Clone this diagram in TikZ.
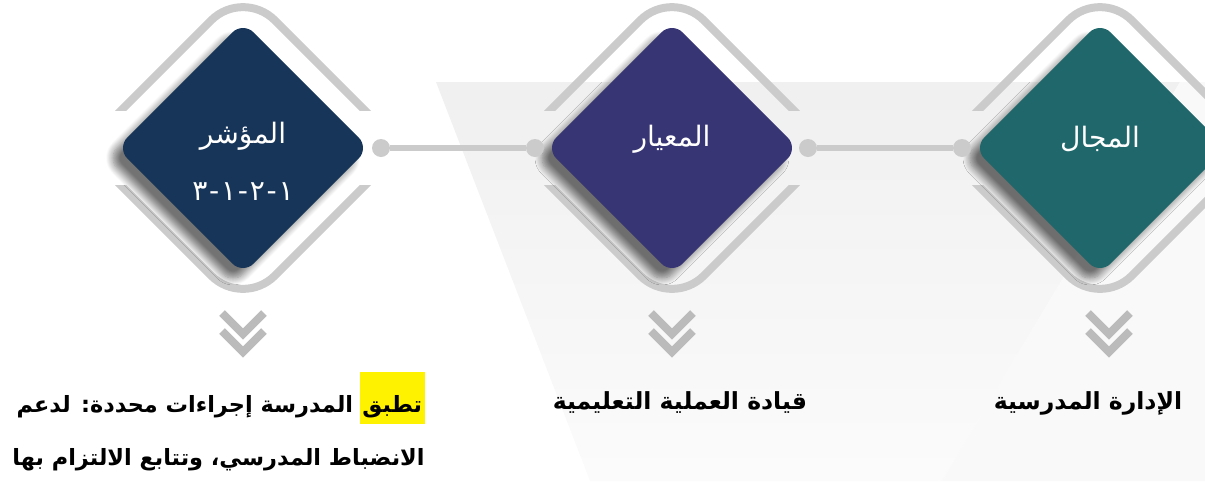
\documentclass[tikz,border=0pt]{standalone}
\usepackage{fontspec}
\usetikzlibrary{shadows.blur}
\setmainfont{DejaVu Sans}
\newfontfamily\arabicfont[Script=Arabic]{DejaVu Sans}
\TeXXeTstate=1
\definecolor{navy}{HTML}{173558}
\definecolor{indigo}{HTML}{383575}
\definecolor{petrol}{HTML}{1F676B}
\definecolor{framegray}{HTML}{CBCBCB}
\definecolor{chevgray}{HTML}{BBBBBB}

\tikzset{
  Tile/.style={rectangle, rotate=45, minimum size=3.57cm, inner sep=0pt, rounded corners=0.3cm,
    blur shadow={shadow xshift=-0.2cm, shadow yshift=-0.2cm, shadow blur radius=0.14cm, shadow blur steps=10, shadow opacity=55}},
  Frame/.style={draw=framegray, line width=0.16cm, rounded corners=0.9cm},
  Dot/.style={circle, fill=framegray, minimum size=0.36cm, inner sep=0pt},
  Link/.style={draw=framegray, line width=0.12cm},
  Chev/.style={draw=chevgray, line width=0.16cm},
  Label/.style={text=white, font=\arabicfont\fontsize{16}{19}\selectfont},
  Caption/.style={text=black, font=\arabicfont\bfseries\fontsize{13.4}{16}\selectfont, inner sep=0pt},
  Para/.style={text=black, font=\arabicfont\bfseries\fontsize{12.75}{16}\selectfont, inner sep=0pt}
}

\begin{document}
\begin{tikzpicture}[x=0.02cm, y=-0.02cm]
\useasboundingbox (0,0) rectangle (1205,481);
\shade[top color=gray!12, bottom color=gray!3] (436,82) -- (1180,82) -- (942,481) -- (590,481) -- cycle;
\fill[gray!5] (1180,82) -- (1205,82) -- (1205,481) -- (942,481) -- cycle;

\begin{scope}
\clip (0,0) rectangle (1205,110);
\draw[Frame] (243,-11.5) -- (402.5,148) -- (243,307.5) -- (83.5,148) -- cycle;
\draw[Frame] (672,-11.5) -- (831.5,148) -- (672,307.5) -- (512.5,148) -- cycle;
\draw[Frame] (1100,-11.5) -- (1259.5,148) -- (1100,307.5) -- (940.5,148) -- cycle;
\end{scope}
\begin{scope}
\clip (0,185) rectangle (1205,481);
\draw[Frame] (243,-11.5) -- (402.5,148) -- (243,307.5) -- (83.5,148) -- cycle;
\draw[Frame] (672,-11.5) -- (831.5,148) -- (672,307.5) -- (512.5,148) -- cycle;
\draw[Frame] (1100,-11.5) -- (1259.5,148) -- (1100,307.5) -- (940.5,148) -- cycle;
\end{scope}

\node[Tile, fill=navy] (indicator) at (243,148) {};
\node[Tile, fill=indigo] (standard) at (672,148) {};
\node[Tile, fill=petrol] (domain) at (1100,148) {};

\node[Label] (indicatorname) at (243,136) {\beginR المؤشر\endR};
\node[Label] (indicatorcode) at (243,192) {٣\kern1pt-\kern1pt١\kern1pt-\kern1pt٢\kern1pt-\kern1pt١};
\node[Label] (standardname) at (672,139) {\beginR المعيار\endR};
\node[Label] (domainname) at (1100,139) {\beginR المجال\endR};

\node[Dot] (s1) at (381,148) {};
\node[Dot] (e1) at (535,148) {};
\node[Dot] (s2) at (808,148) {};
\node[Dot] (e2) at (962,148) {};
\draw[Link] (s1) -- (e1);
\draw[Link] (s2) -- (e2);

\draw[Chev] (222,313) -- (243,334) -- (264,313);
\draw[Chev] (222,331) -- (243,352) -- (264,331);
\draw[Chev] (651,313) -- (672,334) -- (693,313);
\draw[Chev] (651,331) -- (672,352) -- (693,331);
\draw[Chev] (1088,313) -- (1109,334) -- (1130,313);
\draw[Chev] (1088,331) -- (1109,352) -- (1130,331);

\node[Caption] (domaintext) at (1088,403) {\beginR الإدارة المدرسية\endR};
\node[Caption] (standardtext) at (680,403) {\beginR قيادة العملية التعليمية\endR};
\node[Para, fill=yellow, anchor=base east, text height=0.8cm, text depth=0.24cm, inner xsep=1.5pt] (highlight) at (425,412) {تطبق};
\node[Para, anchor=base east] (indicatortext1) at ([xshift=-0.12cm]highlight.base west) {\beginR المدرسة إجراءات محددة\kern0pt: لدعم\endR};
\node[Para, anchor=east] (indicatortext2) at (425,460) {\beginR الانضباط المدرسي\kern0pt، وتتابع الالتزام بها\endR};
\end{tikzpicture}
\end{document}
